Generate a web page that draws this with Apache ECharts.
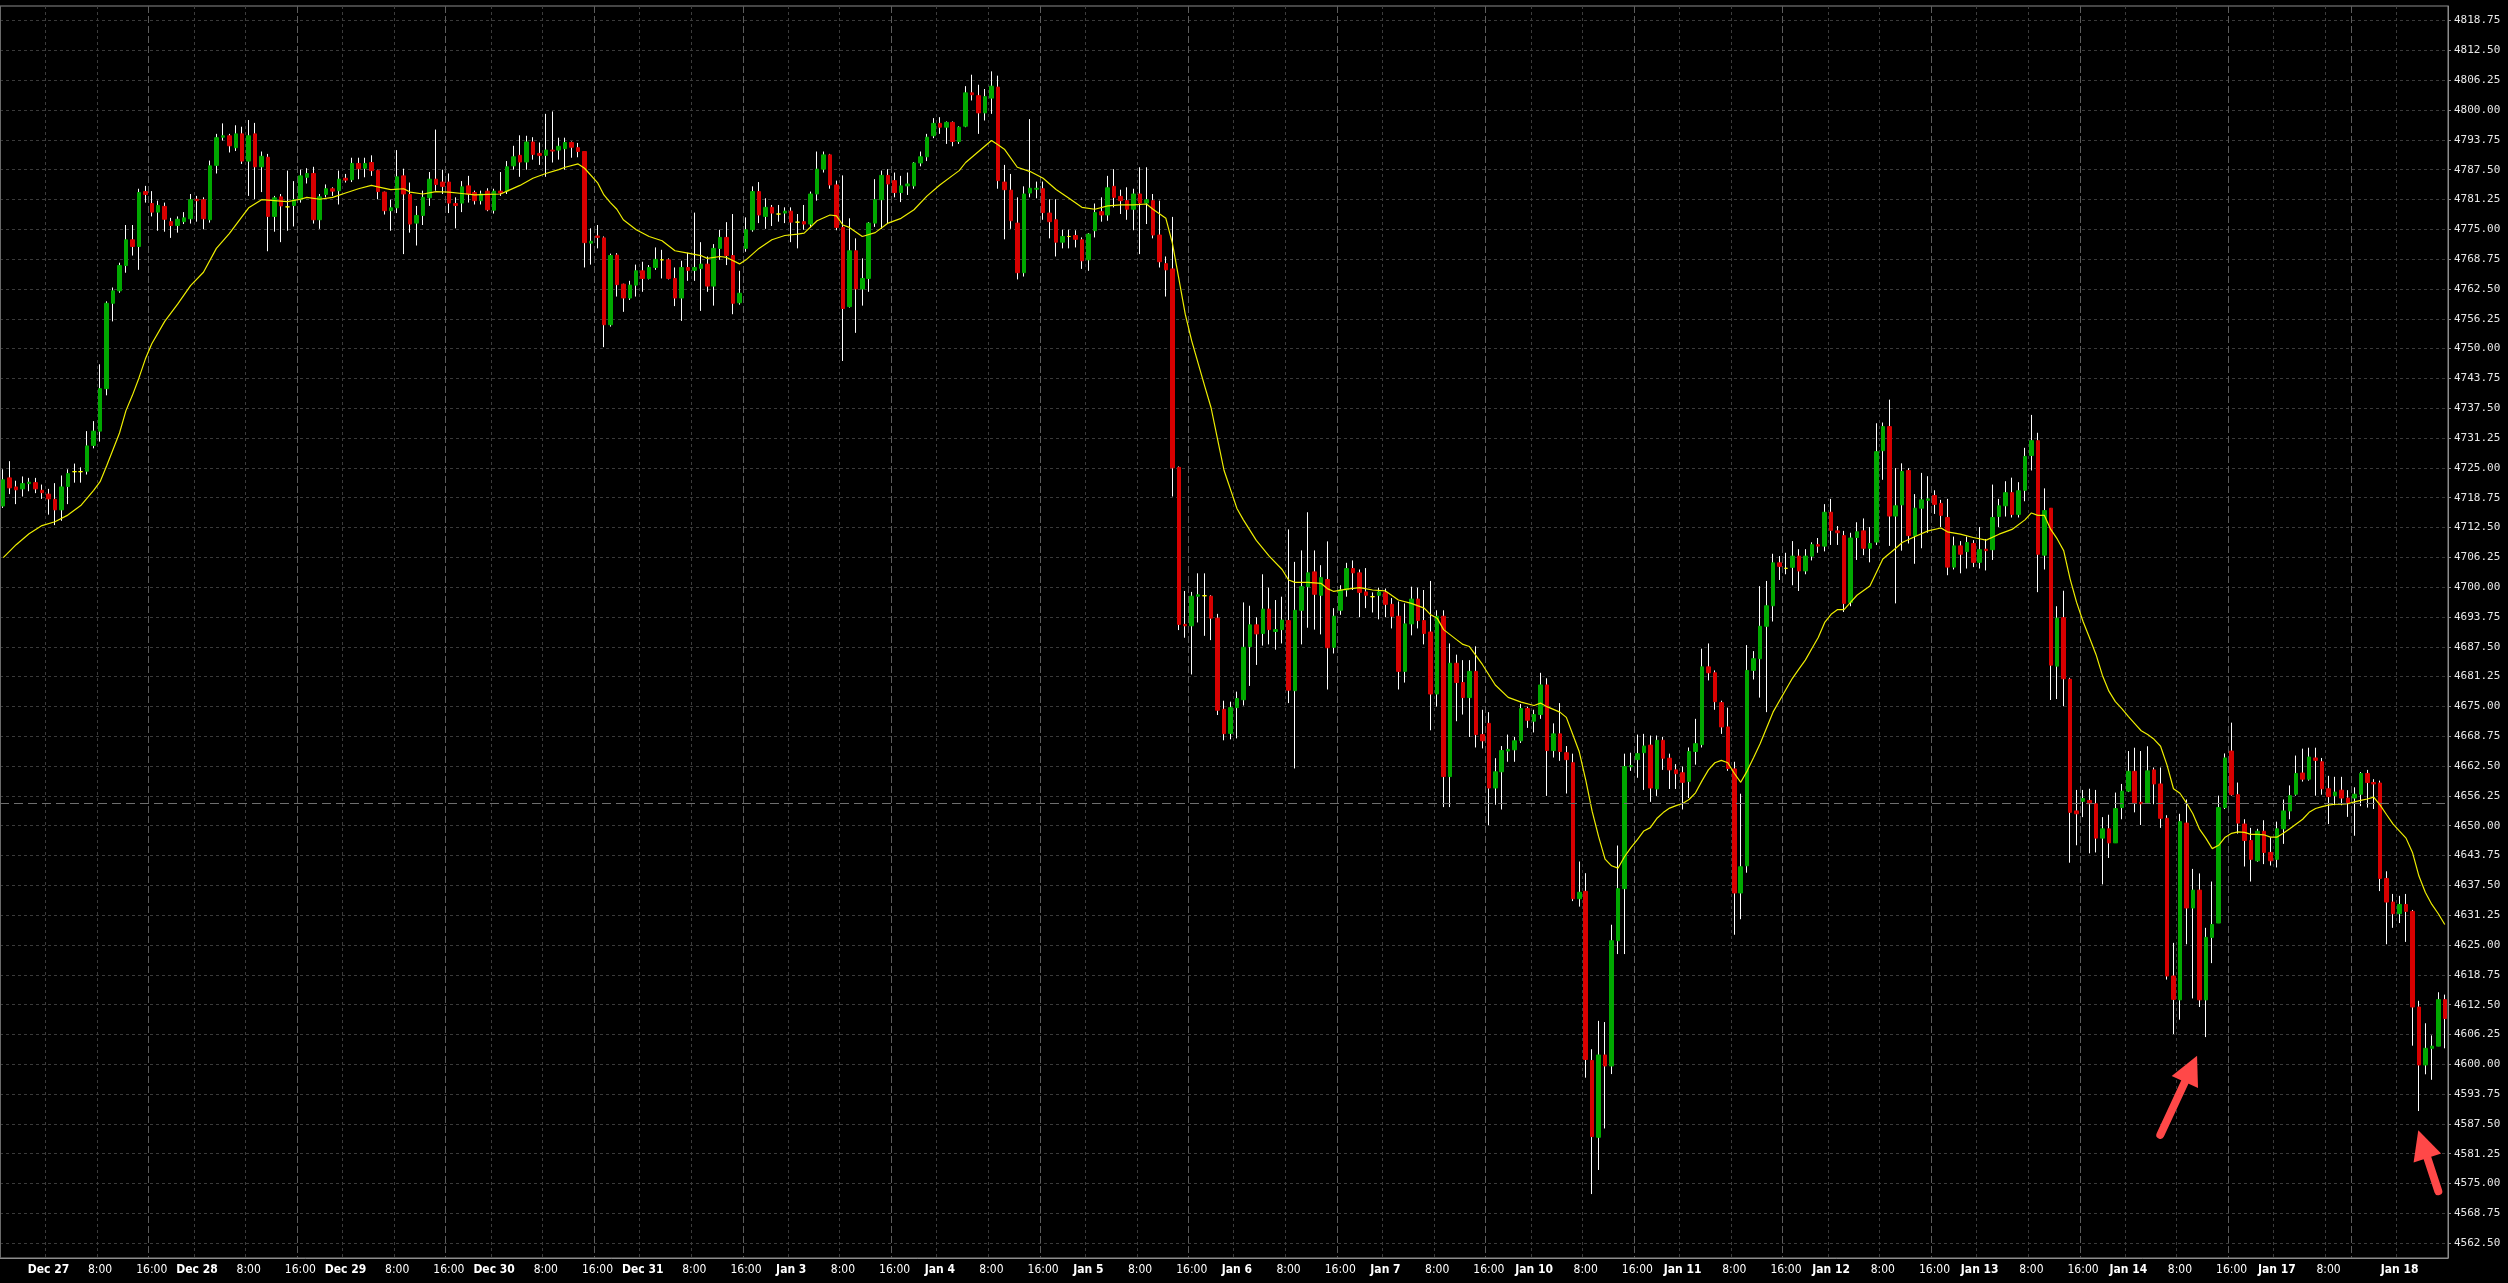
<!DOCTYPE html>
<html><head><meta charset="utf-8">
<script src="https://cdn.jsdelivr.net/npm/echarts@6/dist/echarts.min.js"></script>
<style>html,body{margin:0;padding:0;background:#000;}#c{width:2508px;height:1283px;}</style>
</head><body><div id="c"></div>
<script>
// ---- time axis (hourly bars) ----
const sessionDays = ['Dec 26','Dec 27','Dec 28','Dec 29','Dec 30','Dec 31','Jan 3','Jan 4','Jan 5','Jan 6','Jan 7','Jan 10','Jan 11','Jan 12','Jan 13','Jan 14','Jan 17','Jan 18'];
const sessionHours = [[[17,23]],[[0,22]],[[0,22]],[[0,22]],[[0,22]],[[0,22]],[[0,22]],[[0,22]],[[0,22]],[[0,22]],[[0,22]],[[0,22]],[[0,22]],[[0,22]],[[0,22]],[[0,22]],[[0,11],[16,22]],[[0,7]]];
const labelHours = [0, 8, 16];
const hiddenTimeLabels = ['Jan 17 16'];

// ---- OHLC values ----
const opens = [
4717.0,4722.9,4721.0,4720.6,4721.7,4721.9,4720.3,4719.5,4718.4,4716.2,
4721.1,4724.2,4724.2,4724.3,4729.7,4732.7,4741.6,4759.5,4762.1,4767.4,
4772.8,4771.4,4782.9,4780.4,4778.6,4779.8,4776.6,4775.8,4776.6,4777.2,
4781.3,4781.2,4777.0,4788.4,4794.3,4794.6,4792.1,4795.0,4789.3,4795.0,
4788.1,4790.1,4777.7,4781.8,4779.7,4780.0,4781.2,4785.9,4786.7,4777.0,
4782.3,4783.5,4783.1,4785.7,4785.4,4788.8,4787.8,4789.0,4787.3,4782.8,
4778.9,4779.5,4786.2,4782.3,4776.3,4777.9,4781.6,4785.5,4784.9,4784.9,
4780.4,4780.5,4784.1,4782.7,4781.0,4783.0,4779.0,4783.0,4783.0,4788.3,
4790.5,4789.1,4793.3,4790.9,4790.5,4791.6,4791.6,4791.9,4793.2,4792.1,
4791.3,4772.1,4773.6,4773.2,4755.0,4769.6,4763.5,4760.6,4763.3,4766.3,
4764.7,4767.0,4768.6,4768.6,4764.7,4760.6,4767.0,4766.4,4766.8,4767.7,
4763.1,4771.0,4773.3,4769.5,4759.6,4771.0,4774.9,4782.9,4777.7,4779.6,
4778.2,4778.4,4778.8,4776.5,4776.6,4776.1,4782.4,4787.6,4790.6,4784.3,
4775.4,4758.8,4770.5,4762.5,4764.7,4776.3,4781.2,4786.3,4785.2,4782.7,
4784.1,4784.1,4788.9,4790.2,4794.6,4797.2,4796.4,4797.4,4793.4,4796.6,
4803.6,4803.0,4799.4,4802.5,4804.8,4784.9,4783.2,4776.3,4765.9,4782.6,
4783.4,4783.5,4778.4,4777.0,4772.3,4773.5,4773.7,4772.8,4768.6,4774.7,
4778.7,4778.0,4784.0,4781.9,4781.0,4779.2,4782.4,4780.5,4781.0,4773.8,
4767.8,4766.7,4725.1,4692.2,4691.9,4698.1,4698.2,4698.1,4693.5,4674.4,
4669.35,4674.75,4676.4,4687.55,4692.1,4690.3,4695.4,4690.7,4691.1,4693.0,
4678.3,4695.15,4700.1,4703.2,4698.3,4701.6,4687.4,4695.15,4699.4,4703.9,
4703.0,4699.0,4698.0,4698.3,4698.9,4696.4,4693.9,4682.35,4692.3,4697.5,
4693.0,4690.6,4677.6,4693.9,4660.3,4684.05,4680.0,4676.85,4682.35,4669.1,
4671.45,4657.9,4661.3,4665.65,4665.9,4667.8,4674.55,4671.9,4673.3,4679.5,
4665.75,4669.25,4665.3,4663.2,4634.7,4636.25,4600.8,4584.7,4601.95,4599.65,
4625.9,4636.8,4662.35,4663.85,4665.3,4666.9,4657.7,4667.9,4664.15,4661.7,
4661.1,4659.3,4665.55,4667.0,4683.3,4682.05,4675.8,4670.7,4661.9,4635.9,
4641.6,4682.55,4685.0,4691.8,4696.1,4705.1,4703.95,4704.15,4706.5,4703.4,
4706.5,4708.9,4708.6,4715.7,4711.8,4710.8,4696.8,4710.4,4711.8,4708.15,
4709.45,4728.6,4733.65,4714.9,4717.25,4724.45,4710.8,4716.55,4718.2,4719.2,
4717.55,4714.6,4704.2,4708.65,4707.45,4709.15,4705.2,4707.95,4707.85,4714.8,
4717.05,4719.8,4715.25,4720.3,4727.6,4730.7,4706.7,4716.55,4683.45,4693.6,
4680.7,4653.1,4655.1,4655.3,4654.6,4647.4,4649.35,4646.4,4653.8,4657.25,
4661.4,4654.9,4654.8,4661.7,4658.75,4651.55,4618.5,4613.5,4650.55,4632.75,
4636.5,4613.5,4626.6,4629.6,4653.8,4665.65,4656.5,4650.35,4646.9,4642.65,
4648.85,4644.4,4642.95,4649.35,4653.1,4656.6,4661.05,4659.75,4664.2,4663.4,
4657.75,4656.3,4657.45,4655.8,4655.8,4656.6,4660.95,4659.05,4658.95,4638.95,
4634.0,4631.55,4633.5,4632.05,4612.0,4599.85,4603.35,4603.8,4613.55];
const highs = [
4724.7,4726.4,4722.3,4723.2,4722.9,4722.9,4721.5,4720.6,4721.8,4723.4,
4724.7,4725.9,4725.1,4732.7,4734.8,4746.7,4759.9,4762.8,4768.0,4775.9,
4775.9,4783.5,4784.1,4783.0,4781.0,4780.6,4777.4,4777.7,4778.6,4782.4,
4782.0,4781.7,4789.4,4795.0,4797.2,4795.0,4796.8,4796.5,4797.9,4797.3,
4791.3,4790.8,4782.0,4782.4,4787.3,4785.1,4787.5,4787.8,4788.1,4782.4,
4784.4,4783.8,4787.3,4786.6,4790.0,4790.0,4790.0,4790.5,4787.5,4782.9,
4781.2,4791.6,4787.7,4784.8,4779.9,4783.1,4787.0,4795.9,4787.5,4786.7,
4781.7,4785.1,4786.2,4783.1,4783.1,4783.6,4783.5,4787.0,4789.3,4792.5,
4794.7,4794.6,4794.3,4793.2,4799.2,4799.7,4794.2,4794.2,4793.4,4793.1,
4791.3,4775.2,4775.9,4773.5,4769.9,4770.0,4763.6,4764.2,4767.6,4768.2,
4767.5,4771.2,4770.7,4768.9,4767.0,4768.4,4770.1,4778.5,4772.3,4769.3,
4771.9,4774.9,4776.5,4778.2,4766.3,4777.5,4784.0,4784.9,4781.5,4780.1,
4780.1,4779.6,4779.6,4778.2,4780.1,4782.9,4791.3,4791.3,4790.8,4785.2,
4786.3,4777.3,4773.1,4768.9,4776.5,4785.5,4787.3,4787.6,4786.9,4786.2,
4786.9,4789.1,4791.3,4795.0,4798.3,4798.5,4797.6,4797.6,4796.6,4805.0,
4807.4,4805.3,4804.4,4808.1,4807.2,4788.5,4786.6,4781.7,4784.0,4798.1,
4785.0,4785.0,4781.3,4781.3,4774.9,4774.9,4774.8,4773.3,4774.2,4780.4,
4781.7,4786.2,4787.6,4783.3,4783.8,4783.5,4788.0,4788.0,4782.4,4781.0,
4769.3,4777.6,4725.3,4699.2,4699.0,4702.9,4702.9,4698.3,4694.4,4676.2,
4676.0,4678.1,4696.8,4696.1,4693.7,4702.7,4699.9,4697.3,4698.0,4712.1,
4705.3,4707.7,4715.7,4707.7,4704.6,4709.6,4695.6,4700.4,4705.1,4705.6,
4703.7,4704.0,4698.9,4699.9,4699.7,4697.7,4697.0,4696.6,4700.1,4699.9,
4699.4,4701.3,4695.15,4695.15,4688.2,4685.85,4684.7,4684.7,4687.6,4674.3,
4673.8,4664.15,4666.7,4669.1,4668.6,4675.5,4674.95,4674.3,4682.05,4680.9,
4671.45,4675.7,4666.7,4665.1,4642.5,4640.05,4603.15,4609.1,4608.85,4629.25,
4645.85,4665.1,4665.3,4669.1,4669.25,4668.9,4668.9,4668.6,4665.1,4662.9,
4662.4,4666.4,4672.4,4687.1,4688.2,4682.55,4676.2,4674.75,4663.4,4656.7,
4687.85,4686.6,4700.2,4701.3,4707.0,4706.5,4707.2,4709.65,4707.95,4707.95,
4709.4,4710.3,4717.4,4718.5,4712.8,4711.8,4711.4,4713.6,4714.4,4712.6,
4734.35,4734.5,4739.3,4724.95,4725.95,4724.95,4719.5,4723.95,4723.25,4720.3,
4718.3,4718.5,4710.6,4709.65,4710.6,4709.85,4712.6,4710.1,4721.5,4718.5,
4722.2,4722.95,4722.0,4729.2,4736.1,4732.35,4720.7,4716.55,4696.0,4699.25,
4681.0,4657.5,4657.5,4657.75,4657.5,4651.8,4652.3,4656.95,4658.75,4665.65,
4666.35,4665.65,4666.65,4662.2,4662.2,4652.2,4625.45,4652.5,4655.5,4640.95,
4640.0,4628.6,4638.3,4656.3,4665.15,4671.6,4659.05,4651.35,4649.55,4649.35,
4651.15,4647.6,4650.85,4655.5,4658.45,4664.7,4666.15,4666.35,4666.35,4664.2,
4660.45,4660.25,4660.25,4657.45,4658.05,4661.25,4661.7,4659.75,4659.45,4640.45,
4635.7,4635.3,4635.7,4632.35,4613.3,4608.6,4606.05,4615.1,4614.6];
const lows = [
4716.6,4719.5,4717.4,4719.0,4720.1,4719.7,4718.5,4715.2,4713.0,4713.9,
4717.4,4721.9,4721.9,4723.6,4729.1,4730.5,4740.2,4755.7,4761.7,4765.9,
4769.5,4766.5,4780.6,4777.7,4774.7,4774.5,4773.2,4774.3,4776.1,4776.2,
4776.6,4775.0,4776.4,4786.7,4793.6,4791.1,4791.4,4788.7,4782.0,4781.3,
4782.8,4770.4,4774.5,4772.3,4774.7,4775.6,4780.6,4784.6,4776.2,4775.1,
4781.7,4782.0,4780.2,4784.8,4784.9,4785.5,4785.9,4786.2,4781.3,4778.1,
4774.7,4778.4,4769.8,4774.3,4771.6,4775.9,4779.9,4783.1,4782.4,4778.4,
4775.2,4778.6,4780.6,4780.2,4780.2,4778.8,4778.3,4782.0,4782.4,4787.5,
4786.0,4787.5,4789.6,4788.5,4786.0,4789.0,4789.6,4787.5,4790.0,4790.1,
4767.0,4767.6,4771.0,4750.3,4754.6,4760.9,4757.7,4760.2,4760.9,4761.9,
4764.5,4766.5,4764.7,4764.5,4758.9,4755.8,4764.2,4764.2,4757.9,4761.9,
4759.0,4768.6,4767.5,4757.2,4759.2,4770.3,4774.5,4776.3,4775.1,4775.7,
4776.6,4776.3,4772.3,4771.0,4774.9,4775.4,4781.0,4786.9,4783.5,4774.8,
4747.4,4758.6,4753.3,4759.0,4761.9,4775.5,4775.1,4776.3,4781.7,4780.7,
4782.2,4783.5,4788.2,4789.3,4794.1,4795.0,4792.9,4792.4,4792.9,4796.4,
4802.0,4795.0,4797.8,4799.2,4783.5,4772.9,4775.1,4764.5,4765.1,4781.7,
4781.5,4777.0,4773.1,4769.3,4771.0,4771.0,4771.2,4766.7,4766.3,4773.3,
4776.6,4776.8,4779.6,4778.2,4777.0,4774.8,4769.8,4776.1,4773.1,4767.0,
4760.9,4719.0,4691.0,4689.4,4681.7,4692.6,4689.8,4688.9,4673.2,4667.9,
4668.1,4668.3,4675.2,4679.3,4683.7,4687.75,4688.0,4686.9,4688.2,4675.7,
4662.0,4688.0,4691.5,4691.1,4690.1,4678.55,4686.1,4694.2,4698.0,4699.4,
4693.7,4695.6,4694.7,4693.25,4693.7,4691.35,4678.55,4680.0,4689.9,4691.35,
4688.0,4670.0,4674.95,4653.9,4653.9,4671.9,4673.3,4668.6,4666.4,4666.2,
4650.1,4654.4,4653.4,4663.4,4663.4,4667.35,4670.5,4669.55,4672.4,4656.25,
4664.3,4663.6,4656.75,4634.2,4633.05,4597.2,4572.8,4577.85,4586.55,4597.95,
4623.1,4623.1,4661.5,4660.05,4657.5,4655.0,4656.25,4661.7,4657.7,4657.7,
4653.4,4655.8,4662.8,4666.4,4680.45,4674.3,4669.25,4661.5,4627.15,4630.4,
4640.15,4680.65,4676.85,4673.8,4692.8,4701.5,4702.7,4700.4,4699.2,4702.7,
4705.6,4707.2,4707.5,4708.85,4708.85,4694.8,4696.0,4705.7,4706.7,4705.2,
4708.85,4722.5,4708.65,4696.6,4707.65,4709.15,4704.9,4708.15,4711.4,4715.35,
4712.6,4702.5,4703.7,4702.9,4703.9,4704.2,4703.9,4703.5,4705.7,4712.6,
4714.8,4714.6,4714.6,4718.0,4724.45,4698.95,4703.7,4676.35,4676.55,4675.05,
4642.25,4645.9,4651.8,4644.2,4644.4,4637.7,4643.25,4646.4,4651.35,4657.05,
4652.8,4650.15,4654.8,4654.5,4649.55,4617.75,4606.35,4609.35,4625.15,4613.8,
4612.0,4605.7,4621.2,4629.6,4653.5,4656.3,4648.35,4641.45,4638.3,4642.45,
4641.95,4641.65,4641.25,4646.2,4651.35,4656.3,4659.25,4659.45,4656.3,4656.5,
4650.35,4654.3,4654.3,4651.85,4647.9,4654.1,4653.8,4653.5,4636.3,4625.15,
4628.6,4629.6,4625.65,4603.9,4590.2,4597.9,4596.75,4603.8,4603.35];
const closes = [
4722.5,4720.8,4720.4,4721.7,4722.0,4720.6,4719.8,4718.5,4716.2,4721.0,
4723.8,4724.2,4724.2,4729.6,4732.7,4741.6,4759.5,4762.1,4767.4,4772.8,
4771.4,4782.7,4782.3,4778.6,4780.0,4777.1,4775.8,4777.1,4777.4,4781.2,
4781.0,4777.2,4788.3,4794.2,4794.6,4792.5,4795.0,4789.3,4794.6,4788.1,
4790.3,4777.7,4781.6,4779.9,4779.7,4781.2,4786.2,4786.7,4777.0,4781.8,
4783.5,4783.0,4785.5,4785.3,4788.8,4787.7,4788.8,4787.3,4782.9,4778.9,
4779.5,4786.0,4782.4,4776.1,4777.9,4781.7,4785.5,4784.4,4784.0,4780.5,
4780.0,4783.9,4782.4,4781.0,4782.4,4779.1,4783.0,4782.6,4788.1,4790.2,
4789.1,4793.3,4790.7,4790.5,4791.6,4791.4,4792.4,4793.2,4792.2,4791.3,
4772.2,4772.5,4773.3,4755.0,4769.5,4763.4,4760.6,4763.3,4766.3,4764.7,
4767.0,4768.7,4768.6,4764.7,4760.6,4767.0,4766.4,4767.0,4767.7,4763.1,
4771.0,4773.3,4769.5,4759.5,4761.6,4774.9,4782.9,4778.0,4779.6,4778.4,
4778.2,4778.8,4776.5,4776.5,4776.1,4782.4,4787.6,4790.6,4784.3,4775.4,
4758.4,4770.5,4762.5,4764.7,4776.3,4781.2,4786.3,4784.5,4782.7,4784.1,
4784.5,4788.9,4790.2,4794.3,4797.2,4796.4,4797.4,4793.4,4796.4,4803.6,
4803.2,4799.4,4802.8,4805.0,4785.2,4783.3,4776.8,4765.9,4782.4,4783.6,
4783.6,4778.5,4776.6,4772.3,4773.5,4773.5,4772.9,4768.4,4774.0,4778.5,
4778.0,4783.7,4781.7,4781.0,4779.2,4782.4,4780.5,4781.2,4773.8,4768.2,
4766.5,4725.0,4692.2,4691.9,4698.1,4698.4,4698.2,4693.5,4674.2,4669.3,
4674.75,4676.65,4687.4,4692.1,4690.2,4695.4,4691.1,4691.1,4693.1,4678.4,
4695.15,4700.1,4703.0,4698.5,4702.0,4687.3,4693.9,4699.4,4703.9,4703.0,
4698.9,4698.3,4698.0,4699.0,4696.4,4693.9,4682.35,4692.3,4697.5,4693.0,
4690.3,4677.6,4693.9,4660.3,4684.05,4680.0,4676.85,4682.35,4669.1,4667.8,
4657.9,4661.3,4665.75,4666.0,4667.8,4674.55,4672.1,4673.3,4679.5,4665.75,
4669.25,4665.55,4663.85,4634.7,4636.05,4601.0,4584.85,4601.95,4599.65,4625.9,
4636.8,4662.4,4662.6,4665.1,4666.7,4657.9,4667.9,4664.15,4661.7,4660.9,
4659.1,4665.55,4667.2,4683.3,4682.05,4676.0,4670.7,4662.0,4635.9,4641.4,
4682.55,4685.0,4691.8,4696.1,4705.1,4704.35,4703.95,4706.5,4703.4,4706.5,
4708.9,4708.6,4715.7,4711.9,4711.4,4696.6,4710.3,4711.6,4708.15,4709.15,
4728.4,4733.65,4714.9,4717.05,4724.25,4710.8,4716.55,4718.3,4718.5,4717.35,
4715.05,4704.2,4708.65,4706.9,4709.35,4705.2,4707.85,4707.65,4714.6,4717.05,
4719.8,4715.25,4720.2,4727.4,4730.7,4706.9,4716.05,4683.65,4693.5,4680.8,
4652.8,4652.5,4655.7,4654.6,4647.4,4649.35,4646.4,4653.6,4657.25,4661.4,
4654.8,4654.6,4661.5,4658.75,4651.55,4618.5,4613.6,4650.85,4632.75,4636.5,
4613.5,4626.6,4629.3,4653.8,4664.2,4656.5,4650.55,4646.9,4642.95,4648.85,
4644.4,4642.65,4649.35,4653.1,4656.3,4660.95,4659.75,4664.4,4663.7,4657.75,
4656.1,4657.05,4655.8,4654.8,4656.6,4660.95,4659.05,4658.75,4638.95,4634.0,
4631.55,4633.5,4632.05,4612.0,4599.85,4603.35,4603.8,4613.55,4609.6];

// ---- moving average as [bar index, value] ----
const maPoints = [
[0,4706.2],[2,4708.9],[4,4711.2],[6,4712.9],[8,4713.7],[10,4715.1],[12,4717.1],[14,4720.3],[15,4722.1],[16,4725.4],
[18,4732.3],[19,4737.0],[20,4740.2],[21,4743.8],[22,4747.8],[23,4751.0],[25,4755.7],[27,4759.3],[29,4763.2],[31,4766.0],
[33,4771.0],[35,4774.1],[37,4777.7],[38,4779.5],[40,4781.2],[42,4781.0],[44,4780.8],[46,4781.3],[47,4781.7],[49,4781.3],
[51,4781.7],[53,4782.6],[55,4783.5],[57,4784.2],[58,4783.9],[60,4783.3],[62,4783.5],[63,4782.8],[65,4782.4],[67,4782.9],
[69,4782.8],[71,4782.5],[73,4782.2],[75,4782.3],[77,4782.4],[78,4783.0],[80,4784.2],[82,4785.7],[84,4786.7],[86,4787.5],
[87,4788.0],[89,4788.7],[90,4787.8],[92,4784.8],[93,4782.2],[94,4780.6],[95,4779.2],[96,4777.0],[98,4774.9],[100,4773.5],
[102,4772.6],[104,4770.5],[106,4770.0],[108,4769.5],[109,4768.9],[111,4769.3],[112,4769.1],[114,4767.75],[115,4768.6],[117,4771.0],
[119,4772.8],[121,4773.7],[123,4774.0],[124,4774.2],[126,4776.8],[128,4778.0],[129,4777.8],[130,4775.9],[131,4775.4],[133,4773.5],
[135,4774.3],[137,4776.3],[139,4777.3],[141,4779.1],[143,4781.95],[145,4784.3],[147,4786.3],[148,4787.3],[149,4789.0],[151,4791.3],
[153,4793.6],[154,4792.7],[155,4791.8],[157,4788.0],[159,4787.1],[161,4785.7],[163,4783.35],[165,4781.5],[167,4779.6],[169,4779.2],
[171,4779.9],[173,4780.1],[175,4780.1],[177,4780.3],[178,4779.2],[180,4777.3],[181,4772.15],[182,4764.7],[183,4757.2],[184,4751.6],
[185,4746.9],[186,4742.2],[187,4737.6],[188,4731.0],[189,4724.5],[191,4716.5],[192,4714.1],[194,4709.8],[196,4706.5],[198,4703.7],
[199,4701.5],[200,4701.0],[202,4701.0],[204,4700.8],[205,4699.7],[206,4699.1],[208,4699.6],[210,4699.9],[212,4699.4],[214,4699.2],
[216,4697.3],[218,4696.6],[220,4695.6],[221,4694.2],[222,4693.5],[223,4691.1],[225,4689.0],[226,4688.0],[227,4687.55],[229,4683.8],
[231,4679.5],[233,4676.9],[235,4675.9],[237,4675.2],[238,4675.7],[239,4674.95],[241,4673.8],[242,4672.7],[243,4669.1],[244,4665.5],
[245,4659.6],[246,4653.0],[247,4647.7],[248,4643.0],[249,4641.6],[250,4641.1],[251,4643.5],[252,4645.4],[253,4647.1],[254,4648.9],
[255,4649.6],[256,4651.5],[257,4652.75],[258,4653.7],[259,4654.2],[260,4654.65],[261,4655.5],[262,4656.9],[263,4659.4],[264,4661.7],
[265,4663.2],[266,4663.7],[267,4663.2],[268,4661.0],[269,4659.1],[270,4661.5],[271,4664.3],[272,4667.2],[273,4670.5],[274,4673.8],
[275,4676.2],[276,4678.55],[277,4680.9],[278,4682.8],[279,4684.7],[280,4687.1],[281,4689.45],[282,4692.6],[283,4694.3],[284,4695.3],
[285,4695.3],[286,4696.8],[287,4698.3],[289,4700.25],[291,4705.9],[293,4708.15],[294,4709.35],[296,4710.6],[298,4711.8],[300,4712.4],
[301,4711.6],[303,4711.1],[305,4710.4],[307,4709.85],[309,4711.1],[311,4712.1],[313,4714.1],[314,4715.55],[315,4715.05],[316,4715.05],
[317,4712.1],[318,4710.1],[319,4707.65],[320,4701.7],[321,4696.8],[322,4692.8],[323,4689.4],[324,4685.9],[325,4681.5],[326,4678.2],
[327,4676.0],[328,4674.55],[329,4672.9],[330,4671.4],[331,4669.9],[332,4669.1],[333,4668.1],[334,4666.65],[335,4662.7],[336,4657.75],
[337,4656.8],[338,4654.8],[339,4652.5],[340,4649.35],[341,4647.4],[342,4645.2],[343,4645.9],[344,4647.6],[345,4648.4],[346,4648.7],
[347,4648.6],[348,4648.2],[349,4648.2],[350,4648.1],[351,4647.6],[352,4647.6],[353,4648.4],[354,4649.35],[355,4650.35],[356,4651.35],
[357,4652.8],[358,4653.6],[359,4654.0],[360,4654.3],[361,4654.5],[362,4654.5],[363,4654.6],[364,4655.0],[365,4655.3],[366,4655.6],
[367,4656.0],[368,4654.3],[369,4652.3],[370,4650.35],[371,4648.85],[372,4647.4],[373,4644.4],[374,4639.45],[375,4636.0],[376,4633.5],
[377,4631.55],[378,4629.3]];

// ---- price axis tick labels ----
const yTickValues = [4562.5,4568.75,4575,4581.25,4587.5,4593.75,4600,4606.25,4612.5,4618.75,4625,4631.25,4637.5,4643.75,
4650,4656.25,4662.5,4668.75,4675,4681.25,4687.5,4693.75,4700,4706.25,4712.5,4718.75,4725,4731.25,4737.5,4743.75,
4750,4756.25,4762.5,4768.75,4775,4781.25,4787.5,4793.75,4800,4806.25,4812.5,4818.75];
const yMin = 4559.4, yMax = 4821.8;
const guideLevel = 4654.75;

// ---- annotation arrows in data space: [bar index, price] ----
const arrowMarks = [
  { tail: [333.96, 4585.2], tip: [339.65, 4601.8] },
  { tail: [377.0, 4573.4], tip: [373.9, 4586.15] }
];

// ---- build categories ----
const catDay = [], catHour = [];
sessionDays.forEach((d, k) => {
  sessionHours[k].forEach(r => { for (let h = r[0]; h <= r[1]; h++) { catDay.push(d); catHour.push(h); } });
});
const categories = catDay.map((d, i) => d + ' ' + catHour[i] + ':00');
const isFirstSession = i => catDay[i] === sessionDays[0];
function isLabeled(i) {
  if (isFirstSession(i)) return false;
  if (labelHours.indexOf(catHour[i]) < 0) return false;
  return hiddenTimeLabels.indexOf(catDay[i] + ' ' + catHour[i]) < 0;
}
function isSeparator16(i) { return !isFirstSession(i) && catHour[i] === 16; }
function isGrid(i) { return !isFirstSession(i) && (catHour[i] === 0 || catHour[i] === 8); }

const GREEN = '#00a800', RED = '#d80000';
const FONT_X = "'DejaVu Sans Condensed','Liberation Sans Narrow','DejaVu Sans',sans-serif";

const bodyData = opens.map((o, i) => [o, closes[i], Math.min(o, closes[i]), Math.max(o, closes[i])]);
const wickData = lows.map((l, i) => [i, l, highs[i]]);

// same half-pixel snapping rule ECharts uses for candlestick wicks
function snap(p) { const d = Math.round(p * 2); return (d + 1) % 2 === 0 ? d / 2 : (d - 1) / 2; }

const chart = echarts.init(document.getElementById('c'), null, { renderer: 'canvas' });
const GRID = { left: -3, right: 60, top: 6, bottom: 25 };
chart.setOption({
  backgroundColor: '#000000',
  animation: false,
  grid: Object.assign({ show: true, borderColor: '#8c8c8c', borderWidth: 1, backgroundColor: 'transparent' }, GRID),
  xAxis: [{
    type: 'category', data: categories, boundaryGap: true, position: 'bottom',
    axisLine: { show: true, lineStyle: { color: '#8c8c8c', width: 1 } },
    axisTick: { show: false },
    axisLabel: {
      interval: (i) => isLabeled(i), margin: 6, color: '#ffffff',
      formatter: (v, i) => catHour[i] === 0 ? '{d|' + catDay[i] + '}' : '{t|' + catHour[i] + ':00}',
      rich: {
        d: { fontFamily: FONT_X, fontWeight: 'bold', fontSize: 12, color: '#ffffff' },
        t: { fontFamily: FONT_X, fontSize: 12, color: '#ffffff' }
      }
    },
    splitLine: { show: true, interval: (i) => isGrid(i), lineStyle: { color: '#3c3c3c', type: [3, 3], width: 1 } }
  }, {
    type: 'category', data: categories, boundaryGap: true, position: 'top',
    axisLine: { show: false }, axisTick: { show: false }, axisLabel: { show: false },
    splitLine: { show: true, interval: (i) => isSeparator16(i), lineStyle: { color: '#5c5c5c', type: [7, 3], width: 1 } }
  }],
  yAxis: {
    type: 'value', position: 'right', min: yMin, max: yMax, scale: true,
    axisLine: { show: true, lineStyle: { color: '#8c8c8c' } },
    axisTick: { show: true, length: 3, customValues: yTickValues, lineStyle: { color: '#8c8c8c' } },
    axisLabel: { customValues: yTickValues, formatter: v => v.toFixed(2), color: '#e8e8e8',
      fontFamily: "'DejaVu Sans Mono',monospace", fontSize: 11, margin: 6 },
    splitLine: { show: true, lineStyle: { color: '#3a3a3a', type: [3, 3], width: 1 } }
  },
  series: [{
    type: 'custom', name: 'wick', data: wickData, z: 2, silent: true, clip: true,
    encode: { x: 0, y: [1, 2] },
    renderItem: (params, api) => {
      const lo = api.coord([api.value(0), api.value(1)]);
      const hi = api.coord([api.value(0), api.value(2)]);
      const x = snap(lo[0]);
      return { type: 'line', shape: { x1: x, y1: lo[1], x2: x, y2: hi[1] },
        style: { stroke: '#ffffff', lineWidth: 1 } };
    }
  }, {
    type: 'candlestick', name: 'body', data: bodyData, barWidth: 4, z: 3, silent: true,
    itemStyle: { color: GREEN, color0: RED, borderColor: GREEN, borderColor0: RED, borderColorDoji: '#ffff00', borderWidth: 1 }
  }, {
    type: 'line', name: 'MA', data: maPoints, showSymbol: false, symbol: 'none', z: 4, silent: true,
    lineStyle: { color: '#eeee00', width: 1.2 },
    markLine: { silent: true, symbol: ['none', 'none'], label: { show: false },
      lineStyle: { color: '#6e6e6e', type: [9, 5], width: 1 }, data: [{ yAxis: guideLevel }] }
  }]
});

// ---- arrows & left frame ----
function px(pt) {
  const i0 = Math.floor(pt[0]), f = pt[0] - i0;
  const a = chart.convertToPixel({ xAxisIndex: 0, yAxisIndex: 0 }, [i0, pt[1]]);
  const b = chart.convertToPixel({ xAxisIndex: 0, yAxisIndex: 0 }, [i0 + 1, pt[1]]);
  return [a[0] + (b[0] - a[0]) * f, a[1]];
}
const graphics = [];
const ARROW = '#ff4848';
arrowMarks.forEach(m => {
  const T = px(m.tip), S = px(m.tail);
  const dx = T[0] - S[0], dy = T[1] - S[1], L = Math.hypot(dx, dy);
  const ux = dx / L, uy = dy / L, nx = -uy, ny = ux;
  const headLen = 29, headHalf = 14.5;
  const Bx = T[0] - ux * headLen, By = T[1] - uy * headLen;
  graphics.push({ type: 'line', silent: true, z: 100,
    shape: { x1: S[0], y1: S[1], x2: Bx + ux * 4, y2: By + uy * 4 },
    style: { stroke: ARROW, lineWidth: 8, lineCap: 'round' } });
  graphics.push({ type: 'polygon', silent: true, z: 101,
    shape: { points: [[T[0], T[1]], [Bx + nx * headHalf, By + ny * headHalf], [Bx - nx * headHalf, By - ny * headHalf]] },
    style: { fill: ARROW } });
});
graphics.push({ type: 'line', silent: true, z: 50, shape: { x1: 0.5, y1: GRID.top, x2: 0.5, y2: 1283 - GRID.bottom },
  style: { stroke: '#6a6a6a', lineWidth: 1 } });
chart.setOption({ graphic: graphics });
</script>
</body></html>
